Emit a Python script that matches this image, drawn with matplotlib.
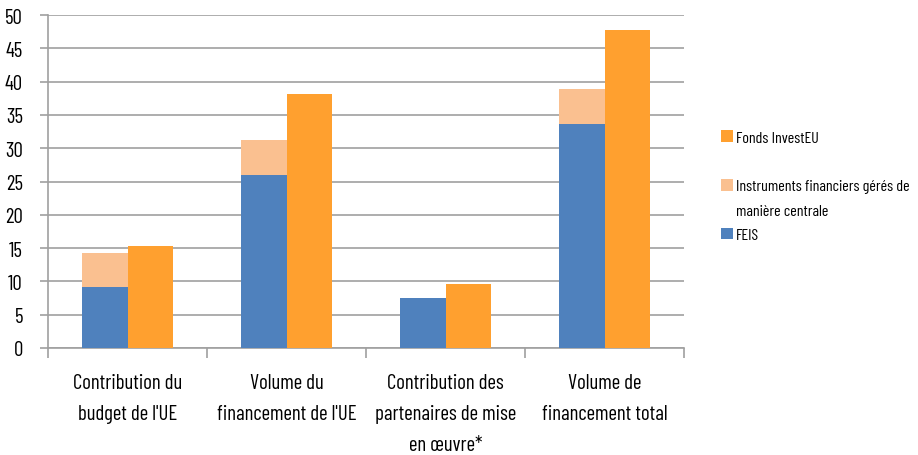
import matplotlib
matplotlib.use('Agg')
import matplotlib.pyplot as plt
from matplotlib.patches import Patch
import numpy as np

plt.rcParams['font.family'] = ['Barlow Condensed', 'DejaVu Sans']

# donnees (milliards EUR)
categories = ["Contribution du\nbudget de l'UE",
              "Volume du\nfinancement de l'UE",
              "Contribution des\npartenaires de mise\nen \u0153uvre*",
              "Volume de\nfinancement total"]
feis = [9.1, 26.0, 7.5, 33.6]
instruments = [5.2, 5.2, 0.0, 5.3]
investeu = [15.3, 38.1, 9.6, 47.7]

BLEU = '#4F81BD'
ORANGE_CLAIR = '#FAC090'
ORANGE = '#FFA02F'
GRIS = '#A0A0A0'

fig = plt.figure(figsize=(9.18, 4.56), dpi=100)
ax = fig.add_axes([48/918, 1-349/456, (684-48)/918, (349-16)/456])

x = np.arange(len(categories))
w = 0.288
b1 = ax.bar(x - w/2, feis, w, color=BLEU, label='FEIS', zorder=3)
b2 = ax.bar(x - w/2, instruments, w, bottom=feis, color=ORANGE_CLAIR,
            label='Instruments financiers gérés de', zorder=3)
b3 = ax.bar(x + w/2, investeu, w, color=ORANGE, label='Fonds InvestEU', zorder=3)

ax.set_xlim(-0.5, 3.5)
ax.set_ylim(0, 50)
ax.set_yticks(range(0, 51, 5))
ax.yaxis.grid(True, color=GRIS, lw=1.2, zorder=0)
ax.set_axisbelow(True)

for s in ['top', 'right']:
    ax.spines[s].set_visible(False)
for s in ['left', 'bottom']:
    ax.spines[s].set_color(GRIS)
    ax.spines[s].set_linewidth(1.2)

ax.tick_params(axis='y', length=6, width=1.2, color=GRIS, pad=12, labelsize=15)
ax.set_xticks(x)
ax.set_xticklabels(categories, fontsize=15, linespacing=1.8)
ax.set_xticks(np.arange(-0.5, 4, 1), minor=True)
ax.tick_params(axis='x', which='major', length=0, pad=18)
ax.tick_params(axis='x', which='minor', length=7, width=1.2, color=GRIS)

# legende : lignes vides pour caler l'espacement comme l'original
vide = Patch(facecolor='none', edgecolor='none')
handles = [b3, vide, b2, vide, b1]
labels = ['Fonds InvestEU', ' ', 'Instruments financiers gérés de', 'manière centrale', 'FEIS']
leg = ax.legend(handles, labels, loc='center left',
                bbox_to_anchor=(1.035, 0.486), frameon=False, fontsize=11.5,
                handlelength=0.75, handleheight=0.75, handletextpad=0.2,
                labelspacing=0.62)

fig.savefig('out.png', dpi=100)
